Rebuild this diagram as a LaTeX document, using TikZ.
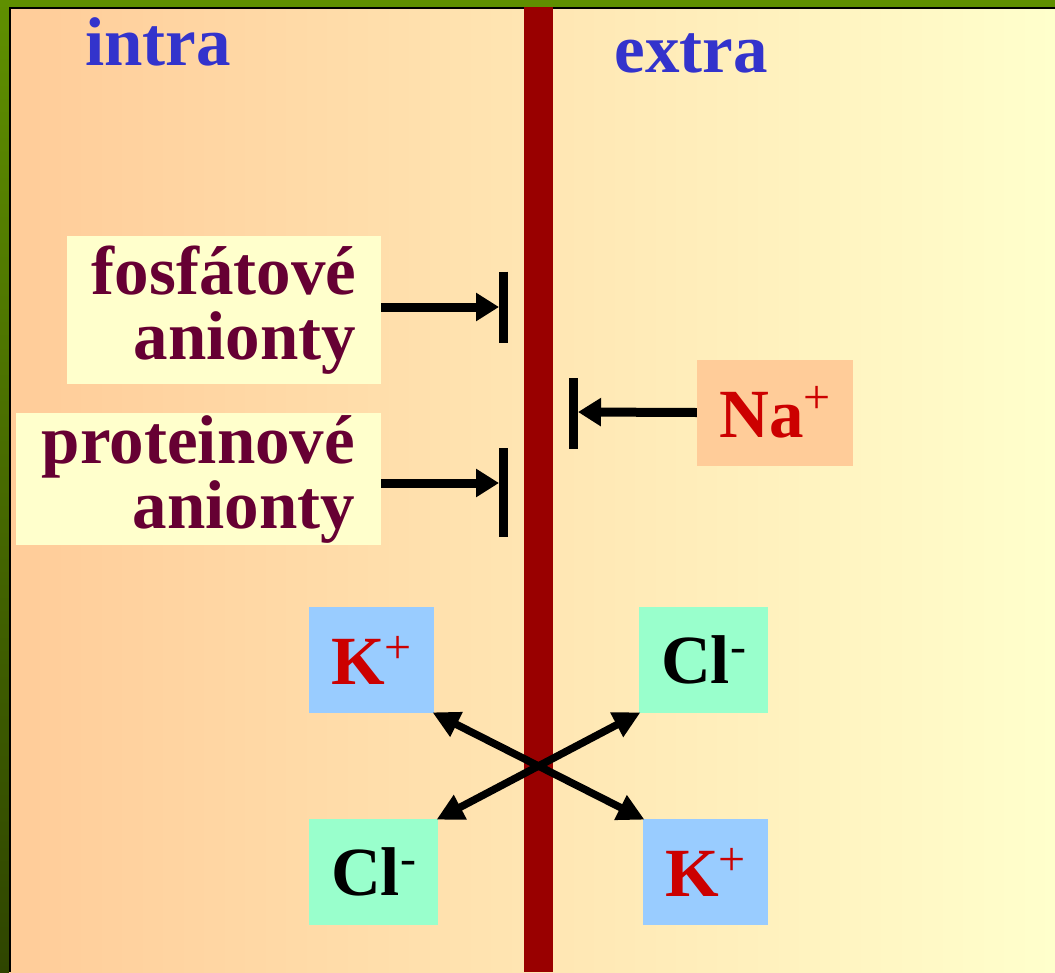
\documentclass[tikz,border=0pt]{standalone}
\usepackage{fontspec}
\setmainfont{Liberation Serif}
\usetikzlibrary{arrows.meta}
\definecolor{rimgreen}{HTML}{5F8F00}
\definecolor{rimdark}{HTML}{2F4500}
\definecolor{intracol}{HTML}{FFCC99}
\definecolor{extracol}{HTML}{FFFFCC}
\definecolor{memred}{HTML}{990000}
\definecolor{sidetxt}{HTML}{3333CC}
\definecolor{aniontxt}{HTML}{660033}
\definecolor{ionred}{HTML}{CC0000}
\definecolor{kbox}{HTML}{99CCFF}
\definecolor{clbox}{HTML}{99FFCC}
% charge of an ion, raised and light
\newcommand{\chg}[2][21pt]{\raisebox{#1}{\fontsize{48}{48}\selectfont\mdseries #2}}
\tikzset{
    side/.style={font=\fontsize{69}{69}\selectfont\bfseries, text=sidetxt, anchor=base, inner sep=0pt},
    anionbox/.style={fill=extracol, text=aniontxt, align=right, inner xsep=23pt, inner ysep=0pt,
        font=\fontsize{69}{65}\selectfont\bfseries},
    ionbox/.style={minimum height=106pt, inner sep=0pt, font=\fontsize{69}{69}\selectfont\bfseries},
    pushed/.style={line width=9pt, -{Triangle[length=23pt,width=27pt]}},
    stopbar/.style={line width=9pt},
    swap/.style={line width=7.5pt, {Triangle[length=27pt,width=26pt]}-{Triangle[length=27pt,width=26pt]}, shorten <=-2pt, shorten >=-2pt}
}
\begin{document}
\begin{tikzpicture}[x=1pt,y=-1pt]
    \useasboundingbox (0,0) rectangle (1055,972);
    % frame and both compartments
    \fill[rimgreen] (0,0) rectangle (1055,7);
    \shade[top color=rimgreen, bottom color=rimdark] (0,0) rectangle (9,972);
    \shade[left color=intracol, right color=extracol] (9,7) rectangle (1055,972);
    \draw[black, line width=1.5pt] (9.75,972) -- (9.75,7.75) -- (1055,7.75);
    % membrane
    \node[fill=memred, minimum width=29pt, minimum height=965pt, inner sep=0pt] (mem) at (538.5,489.5) {};
    \node[side] (intra) at (158,65) {intra};
    \node[side] (extra) at (691,72) {extra};
    % anions held inside
    \node[anionbox, minimum width=314pt, minimum height=148pt] (fosf) at (224,310) {fosfátové\\anionty};
    \node[anionbox, minimum width=365pt, minimum height=132pt] (prot) at (198.5,479) {proteinové\\anionty};
    \coordinate (fstop) at (499,307);
    \coordinate (pstop) at (499,483);
    \draw[pushed] (fosf.east |- fstop) -- (fstop);
    \draw[stopbar] ([xshift=4.5pt,yshift=35.5pt]fstop) -- ([xshift=4.5pt,yshift=-35.5pt]fstop);
    \draw[pushed] (prot.east |- pstop) -- (pstop);
    \draw[stopbar] ([xshift=4.5pt,yshift=35pt]pstop) -- ([xshift=4.5pt,yshift=-54pt]pstop);
    % sodium kept outside
    \node[ionbox, fill=intracol, text=ionred, minimum width=156pt] (na) at (775,412.5) {Na\chg[24pt]{+}};
    \coordinate (nstop) at (578,412);
    \draw[pushed] (na.west) -- (nstop);
    \draw[stopbar] ([xshift=-4.5pt,yshift=34pt]nstop) -- ([xshift=-4.5pt,yshift=-37pt]nstop);
    % K+ and Cl- exchange
    \node[ionbox, fill=kbox, text=ionred, minimum width=125pt] (kin) at (371.5,660) {K\chg{+}};
    \node[ionbox, fill=clbox, minimum width=129pt] (clout) at (703.5,660) {Cl\chg{-}};
    \node[ionbox, fill=clbox, minimum width=129pt] (clin) at (373.5,872) {Cl\chg{-}};
    \node[ionbox, fill=kbox, text=ionred, minimum width=125pt] (kout) at (705.5,872) {K\chg{+}};
    \draw[swap] (kin.south east) -- (kout.north west);
    \draw[swap] (clin.north east) -- (clout.south west);
\end{tikzpicture}
\end{document}
